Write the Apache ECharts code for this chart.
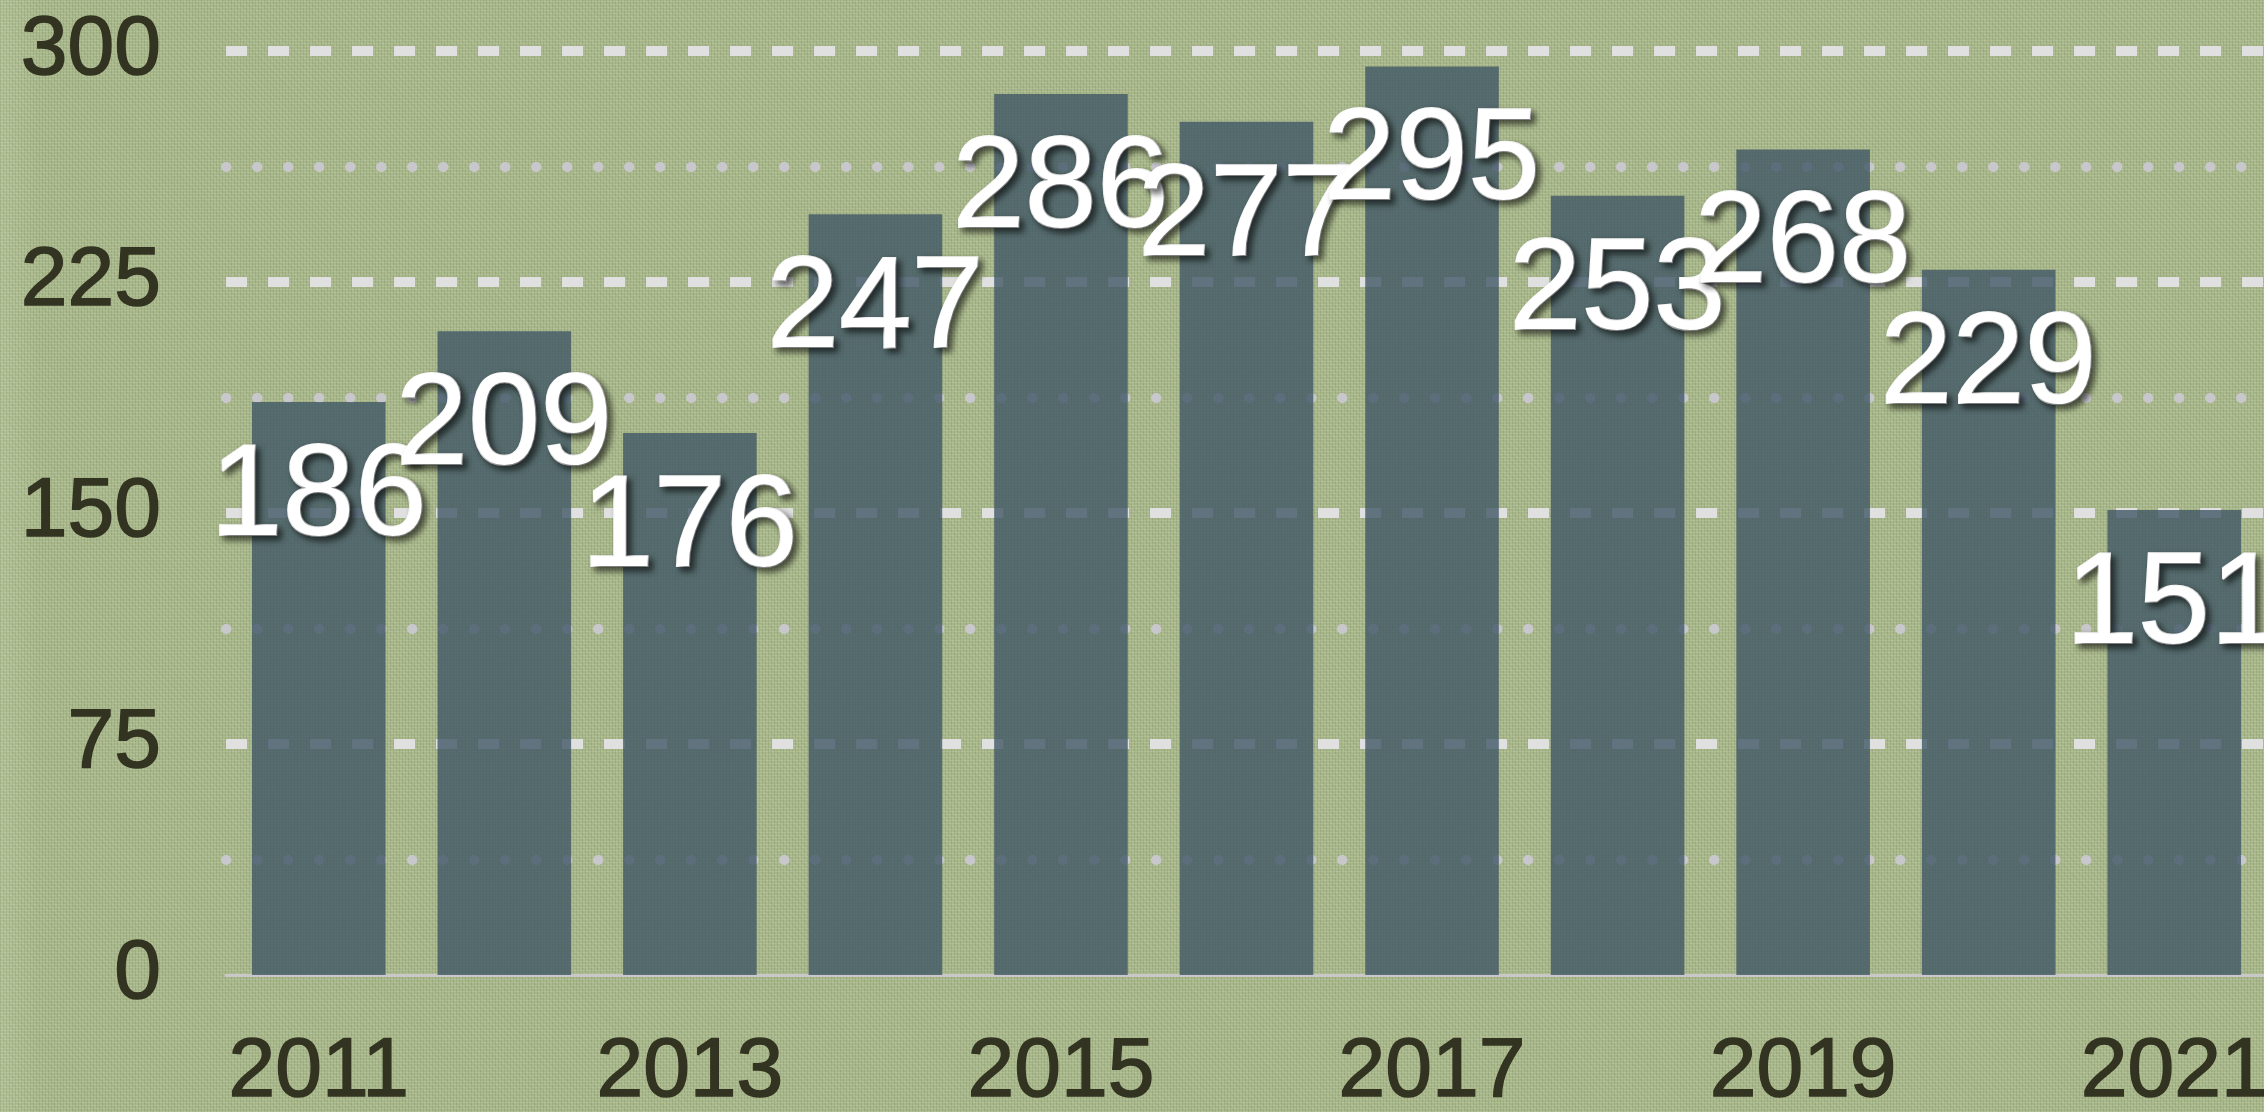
<!DOCTYPE html>
<html>
<head>
<meta charset="utf-8">
<script src="https://cdn.jsdelivr.net/npm/echarts@6/dist/echarts.min.js"></script>
<style>
html, body { margin: 0; padding: 0; width: 2264px; height: 1112px; overflow: hidden; }
body {
  background-color: #a6b688;
  background-image:
    repeating-linear-gradient(0deg, rgba(255,255,235,0.12) 0px, rgba(255,255,235,0.12) 1px, rgba(0,0,0,0) 1px, rgba(0,0,0,0) 3px),
    repeating-linear-gradient(90deg, rgba(40,50,20,0.10) 0px, rgba(40,50,20,0.10) 1px, rgba(0,0,0,0) 1px, rgba(0,0,0,0) 3px),
    repeating-linear-gradient(45deg, rgba(255,255,235,0.06) 0px, rgba(255,255,235,0.06) 2px, rgba(0,0,0,0) 2px, rgba(0,0,0,0) 5px),
    linear-gradient(90deg, rgba(255,255,240,0.10) 0px, rgba(255,255,240,0.0) 40px);
}
#chart { width: 2264px; height: 1112px; }
</style>
</head>
<body>
<div id="chart"></div>
<script>
const years = ['2011','2012','2013','2014','2015','2016','2017','2018','2019','2020','2021'];
const values = [186, 209, 176, 247, 286, 277, 295, 253, 268, 229, 151];
const yTicks = [0, 75, 150, 225, 300];

const FONT = '"Liberation Sans", Arial, Helvetica, sans-serif';
const chart = echarts.init(document.getElementById('chart'), null, { renderer: 'canvas' });
chart.setOption({
  backgroundColor: 'transparent',
  animation: false,
  grid: { left: 226, top: 51, width: 2041, height: 924, containLabel: false, outerBoundsMode: 'none' },
  xAxis: {
    type: 'category',
    data: years,
    axisLine: { show: true, lineStyle: { color: '#c8c8c8', width: 3 } },
    axisTick: { show: false },
    axisLabel: { interval: 1, margin: 56, fontSize: 84, color: '#333322', fontFamily: FONT,
                 textBorderColor: '#333322', textBorderWidth: 1.5 }
  },
  yAxis: {
    type: 'value',
    min: yTicks[0],
    max: yTicks[yTicks.length - 1],
    interval: 75,
    axisLine: { show: false },
    axisTick: { show: false },
    axisLabel: { margin: 65, fontSize: 84, color: '#333322', fontFamily: FONT,
                 textBorderColor: '#333322', textBorderWidth: 1.5 },
    splitLine: { show: true, showMinLine: false, lineStyle: { color: '#e0e0e0', width: 10, type: [21, 21] } },
    minorTick: { show: false, splitNumber: 2 },
    minorSplitLine: { show: true, lineStyle: { color: '#c8c8cc', width: 10, type: [0.5, 30.5], cap: 'round', dashOffset: -31 } }
  },
  series: [{
    type: 'bar',
    data: values,
    barCategoryGap: '28%',
    itemStyle: { color: 'rgba(62,84,100,0.78)' },
    label: {
      show: true,
      position: 'insideTop',
      distance: 32,
      fontSize: 130,
      color: '#ffffff',
      fontFamily: FONT,
      textBorderColor: '#ffffff',
      textBorderWidth: 2,
      textShadowColor: 'rgba(0,0,0,0.6)',
      textShadowBlur: 6,
      textShadowOffsetX: 4,
      textShadowOffsetY: 4
    }
  }]
});
</script>
</body>
</html>
